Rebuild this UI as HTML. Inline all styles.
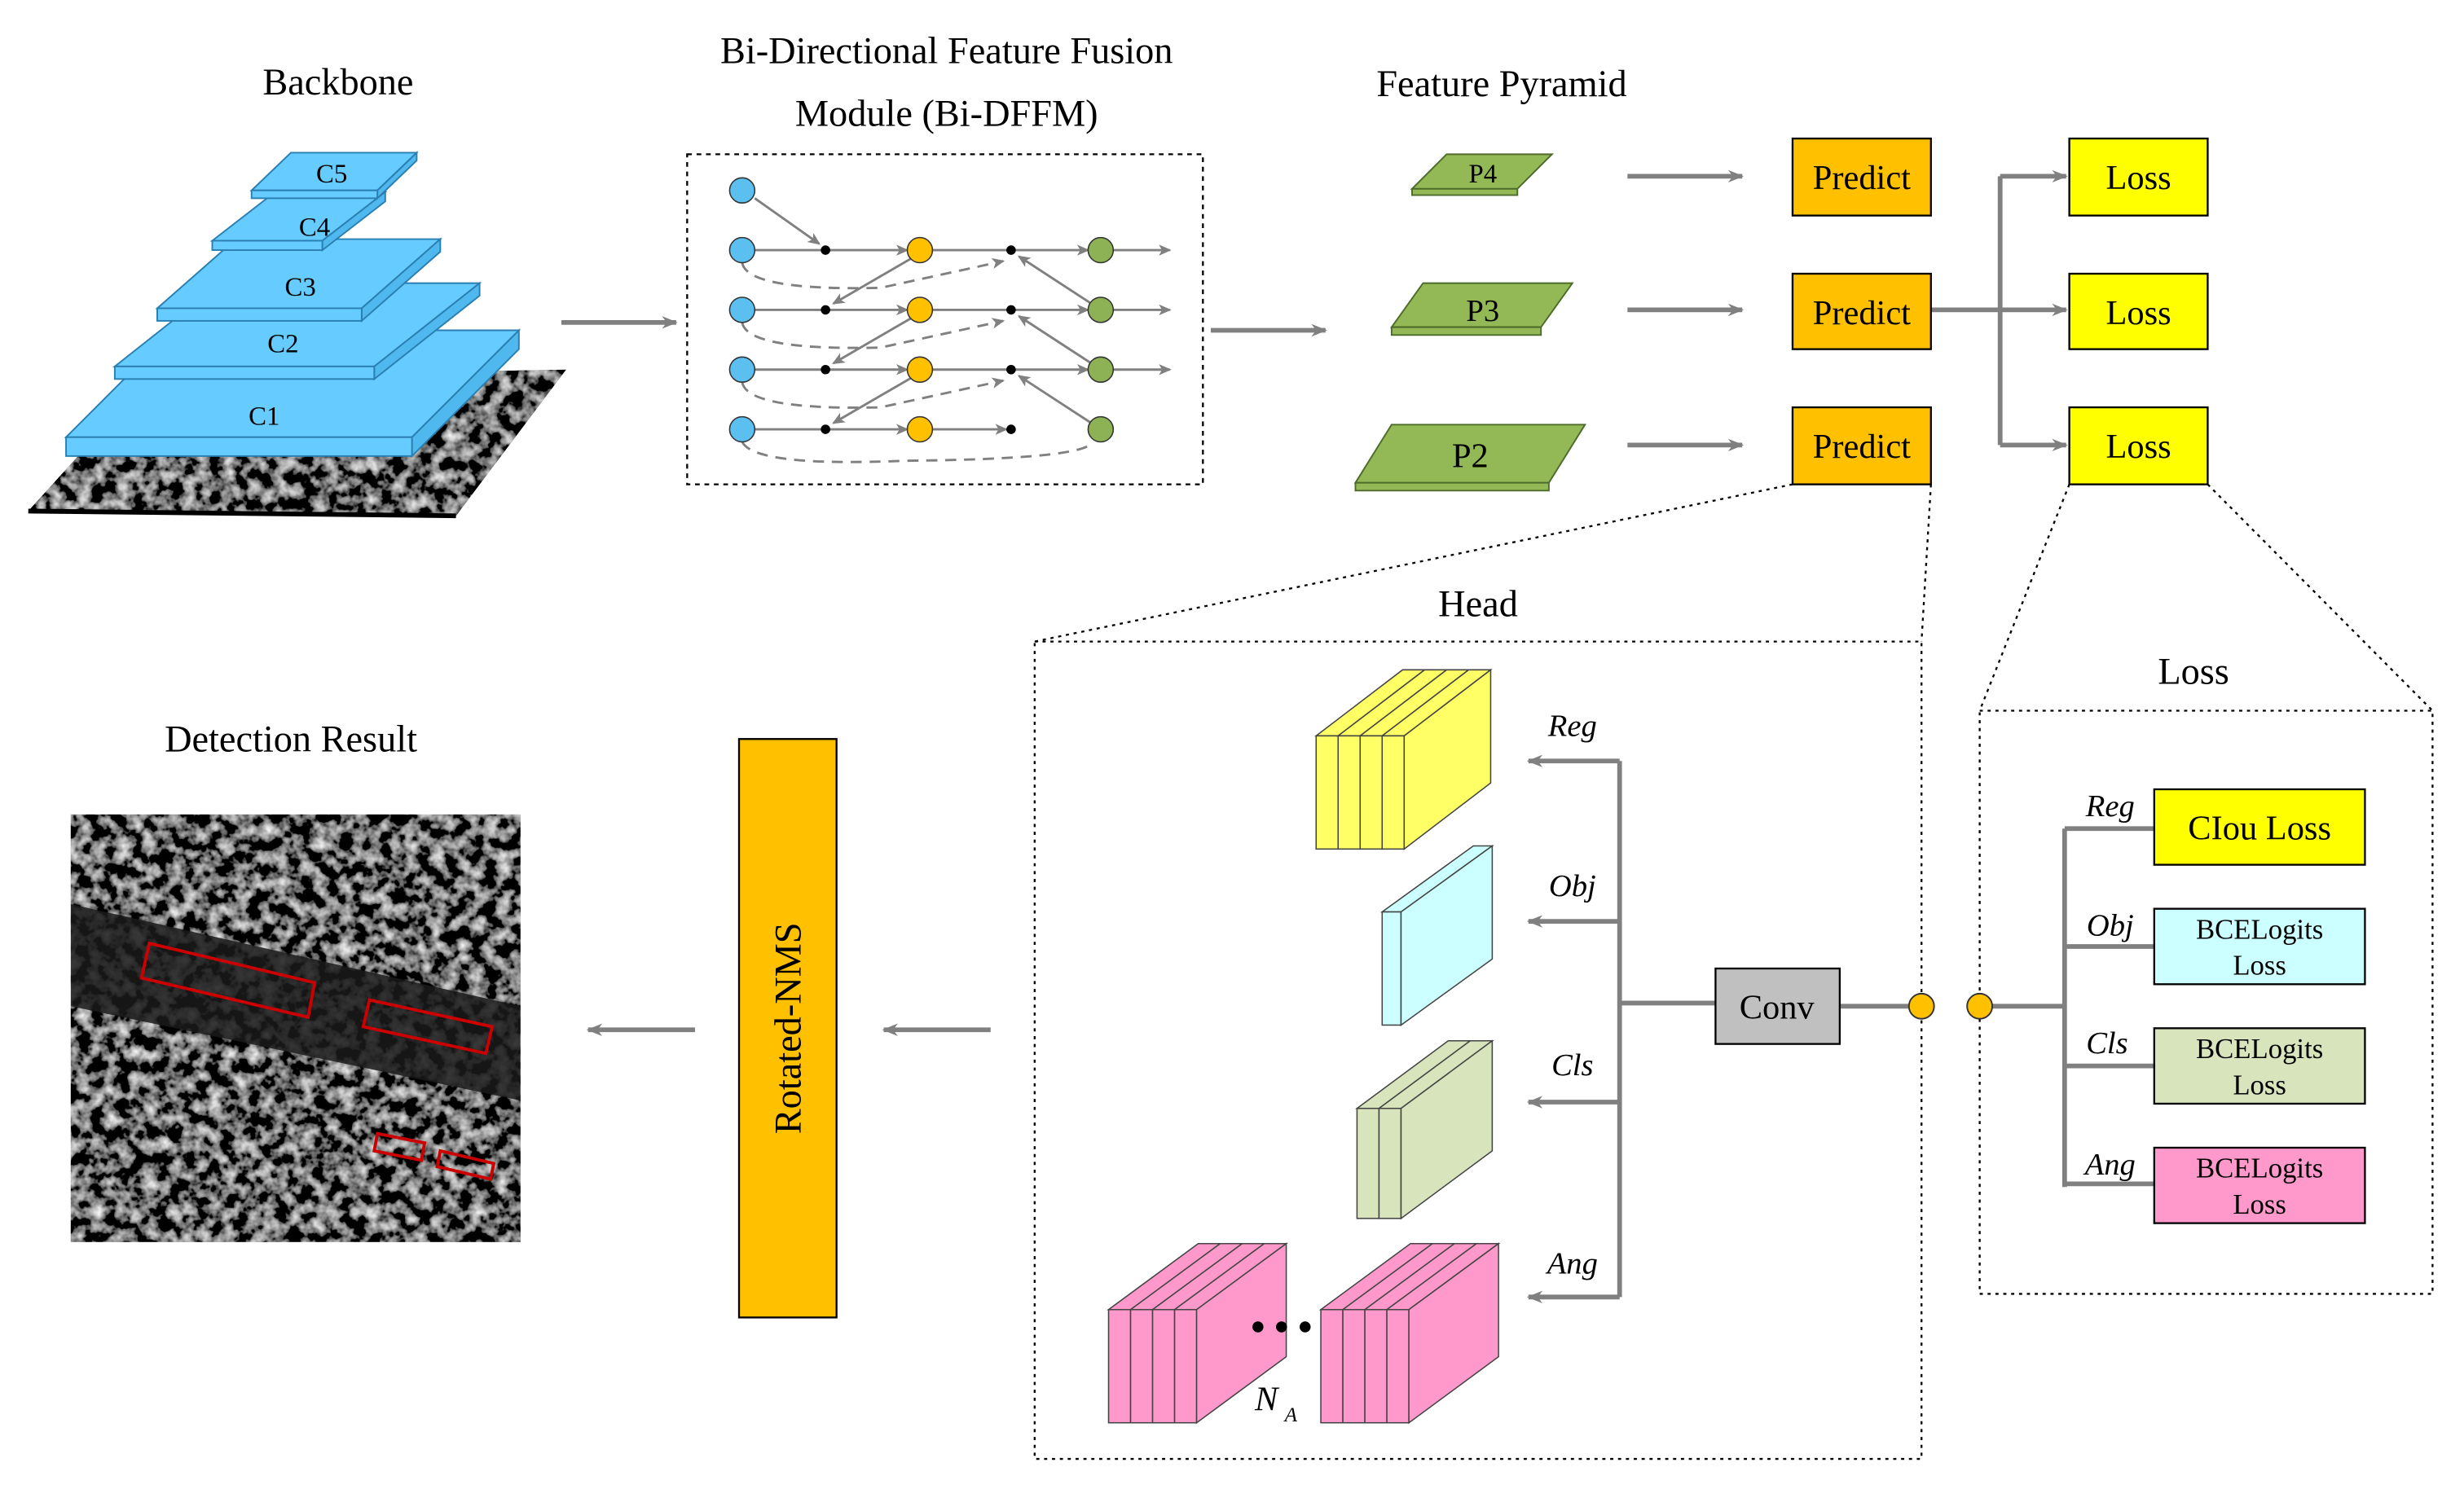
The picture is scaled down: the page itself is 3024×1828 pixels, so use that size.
<!DOCTYPE html>
<html><head><meta charset="utf-8"><style>html,body{margin:0;padding:0;background:#fff}svg{display:block}text{font-family:"Liberation Serif",serif}</style></head><body>
<svg xmlns="http://www.w3.org/2000/svg" width="3024" height="1828" viewBox="0 0 1567 947">
<defs>
<filter id="noise"><feTurbulence type="fractalNoise" baseFrequency="0.12" numOctaves="3" seed="7" result="t"/>
<feColorMatrix in="t" type="matrix" values="1.8 0 0 0 -0.75  1.8 0 0 0 -0.75  1.8 0 0 0 -0.75  0 0 0 0 1"/></filter>
<clipPath id="c1"><polygon points="18,325 290,328 360,235 95,240"/></clipPath>
<clipPath id="c2"><rect x="45" y="518" width="286" height="272"/></clipPath>
<marker id="ar" markerWidth="10" markerHeight="10" refX="9" refY="5" orient="auto" markerUnits="userSpaceOnUse"><path d="M0,1 L10,5 L0,9 L3,5 Z" fill="#808080"/></marker>
<marker id="as" markerWidth="8" markerHeight="8" refX="7" refY="4" orient="auto" markerUnits="userSpaceOnUse"><path d="M0,0.5 L8,4 L0,7.5 L2,4 Z" fill="#808080"/></marker>
</defs>

<!-- Backbone -->
<text x="215" y="60" font-size="24" text-anchor="middle">Backbone</text>
<g clip-path="url(#c1)"><rect x="0" y="220" width="380" height="120" fill="#222"/><rect x="0" y="220" width="380" height="120" filter="url(#noise)"/></g>
<line x1="18" y1="325" x2="290" y2="328" stroke="#000" stroke-width="3"/>
<g stroke="#2a7fb0" stroke-width="1" fill="#66CCFF">
<polygon points="42,278 110,210 330,210 262,278"/><polygon points="262,278 330,210 330,222 262,290" fill="#4fb8ee"/><rect x="42" y="278" width="220" height="12"/>
<polygon points="73,233 140,180 305,180 238,233"/><polygon points="238,233 305,180 305,188 238,241" fill="#4fb8ee"/><rect x="73" y="233" width="165" height="8"/>
<polygon points="100,196 150,152 280,152 230,196"/><polygon points="230,196 280,152 280,160 230,204" fill="#4fb8ee"/><rect x="100" y="196" width="130" height="8"/>
<polygon points="135,153 175,122 245,122 205,153"/><polygon points="205,153 245,122 245,128 205,159" fill="#4fb8ee"/><rect x="135" y="153" width="70" height="6"/>
<polygon points="160,121 185,97 265,97 240,121"/><polygon points="240,121 265,97 265,102 240,126" fill="#4fb8ee"/><rect x="160" y="121" width="80" height="5"/>
</g>
<g font-size="17" text-anchor="middle"><text x="168" y="270">C1</text><text x="180" y="224">C2</text><text x="191" y="188">C3</text><text x="200" y="150">C4</text><text x="211" y="116">C5</text></g>
<line x1="357" y1="205" x2="430" y2="205" stroke="#808080" stroke-width="3" marker-end="url(#ar)"/>

<!-- Bi-DFFM -->
<text x="602" y="40" font-size="24" text-anchor="middle">Bi-Directional Feature Fusion</text>
<text x="602" y="80" font-size="24" text-anchor="middle">Module (Bi-DFFM)</text>
<rect x="437" y="98" width="328" height="210" fill="none" stroke="#000" stroke-width="1.2" stroke-dasharray="3,3"/>
<g stroke="#808080" stroke-width="1.5" fill="none">
<line x1="480" y1="126" x2="521" y2="155" marker-end="url(#as)"/>
<line x1="480" y1="159" x2="577" y2="159" marker-end="url(#as)"/>
<line x1="480" y1="197" x2="577" y2="197" marker-end="url(#as)"/>
<line x1="480" y1="235" x2="577" y2="235" marker-end="url(#as)"/>
<line x1="480" y1="273" x2="577" y2="273" marker-end="url(#as)"/>
<line x1="593" y1="159" x2="692" y2="159" marker-end="url(#as)"/>
<line x1="593" y1="197" x2="692" y2="197" marker-end="url(#as)"/>
<line x1="593" y1="235" x2="692" y2="235" marker-end="url(#as)"/>
<line x1="593" y1="273" x2="640" y2="273" marker-end="url(#as)"/>
<line x1="708" y1="159" x2="744" y2="159" marker-end="url(#as)"/>
<line x1="708" y1="197" x2="744" y2="197" marker-end="url(#as)"/>
<line x1="708" y1="235" x2="744" y2="235" marker-end="url(#as)"/>
<line x1="580" y1="164" x2="530" y2="193" marker-end="url(#as)"/>
<line x1="580" y1="202" x2="530" y2="231" marker-end="url(#as)"/>
<line x1="580" y1="240" x2="530" y2="269" marker-end="url(#as)"/>
<line x1="694" y1="193" x2="648" y2="163" marker-end="url(#as)"/>
<line x1="694" y1="231" x2="648" y2="201" marker-end="url(#as)"/>
<line x1="694" y1="269" x2="648" y2="239" marker-end="url(#as)"/>
<g stroke-dasharray="7,5">
<path d="M472,167 Q475,185 560,183 L638,166" marker-end="url(#as)"/>
<path d="M472,205 Q475,223 560,221 L638,204" marker-end="url(#as)"/>
<path d="M472,243 Q475,261 560,259 L638,242" marker-end="url(#as)"/>
<path d="M472,281 Q480,297 575,293 Q690,292 695,281"/>
</g>
</g>
<g stroke="#333" stroke-width="0.8">
<g fill="#5BC0F0"><circle cx="472" cy="121" r="8"/><circle cx="472" cy="159" r="8"/><circle cx="472" cy="197" r="8"/><circle cx="472" cy="235" r="8"/><circle cx="472" cy="273" r="8"/></g>
<g fill="#FFC000"><circle cx="585" cy="159" r="8"/><circle cx="585" cy="197" r="8"/><circle cx="585" cy="235" r="8"/><circle cx="585" cy="273" r="8"/></g>
<g fill="#8DB255"><circle cx="700" cy="159" r="8"/><circle cx="700" cy="197" r="8"/><circle cx="700" cy="235" r="8"/><circle cx="700" cy="273" r="8"/></g>
</g>
<g fill="#000"><circle cx="525" cy="159" r="3"/><circle cx="525" cy="197" r="3"/><circle cx="525" cy="235" r="3"/><circle cx="525" cy="273" r="3"/><circle cx="643" cy="159" r="3"/><circle cx="643" cy="197" r="3"/><circle cx="643" cy="235" r="3"/><circle cx="643" cy="273" r="3"/></g>
<line x1="770" y1="210" x2="843" y2="210" stroke="#808080" stroke-width="3" marker-end="url(#ar)"/>

<!-- Feature pyramid -->
<text x="955" y="61" font-size="24" text-anchor="middle">Feature Pyramid</text>
<g fill="#92B955" stroke="#4d6b2a" stroke-width="1">
<polygon points="898,120 920,98 987,98 965,120"/><polygon points="898,120 965,120 965,124 898,124"/>
<polygon points="885,208 905,180 1000,180 980,208"/><polygon points="885,208 980,208 980,213 885,213"/>
<polygon points="862,307 885,270 1008,270 985,307"/><polygon points="862,307 985,307 985,312 862,312"/>
</g>
<text x="943" y="116" font-size="17" text-anchor="middle">P4</text>
<text x="943" y="204" font-size="20" text-anchor="middle">P3</text>
<text x="935" y="297" font-size="22" text-anchor="middle">P2</text>
<g stroke="#808080" stroke-width="3" fill="none">
<line x1="1035" y1="112" x2="1108" y2="112" marker-end="url(#ar)"/>
<line x1="1035" y1="197" x2="1108" y2="197" marker-end="url(#ar)"/>
<line x1="1035" y1="283" x2="1108" y2="283" marker-end="url(#ar)"/>
<line x1="1228" y1="197" x2="1314" y2="197" marker-end="url(#ar)"/>
<polyline points="1272,112 1272,283"/>
<line x1="1272" y1="112" x2="1314" y2="112" marker-end="url(#ar)"/>
<line x1="1272" y1="283" x2="1314" y2="283" marker-end="url(#ar)"/>
</g>
<g stroke="#000" stroke-width="1.2">
<rect x="1140" y="88" width="88" height="49" fill="#FFC000"/>
<rect x="1140" y="174" width="88" height="48" fill="#FFC000"/>
<rect x="1140" y="259" width="88" height="49" fill="#FFC000"/>
<rect x="1316" y="88" width="88" height="49" fill="#FFFF00"/>
<rect x="1316" y="174" width="88" height="48" fill="#FFFF00"/>
<rect x="1316" y="259" width="88" height="49" fill="#FFFF00"/>
</g>
<g font-size="22" text-anchor="middle">
<text x="1184" y="120">Predict</text><text x="1184" y="206">Predict</text><text x="1184" y="291">Predict</text>
<text x="1360" y="120">Loss</text><text x="1360" y="206">Loss</text><text x="1360" y="291">Loss</text>
</g>
<g stroke="#000" stroke-width="1.2" stroke-dasharray="2,3" fill="none">
<line x1="1140" y1="308" x2="658" y2="408"/><line x1="1228" y1="308" x2="1222" y2="408"/>
<line x1="1316" y1="308" x2="1259" y2="452"/><line x1="1404" y1="308" x2="1547" y2="452"/>
<rect x="658" y="408" width="564" height="520"/>
<rect x="1259" y="452" width="288" height="371"/>
</g>
<text x="940" y="392" font-size="24" text-anchor="middle">Head</text>
<text x="1395" y="435" font-size="24" text-anchor="middle">Loss</text>

<!-- Detection -->
<text x="185" y="478" font-size="24" text-anchor="middle">Detection Result</text>
<g clip-path="url(#c2)"><rect x="45" y="518" width="286" height="272" fill="#222"/><rect x="45" y="518" width="286" height="272" filter="url(#noise)"/>
<polygon points="45,575 331,640 331,700 45,640" fill="#1a1a1a" opacity="0.85"/></g>
<g fill="none" stroke="#cc0000" stroke-width="2">
<polygon points="95,600 200,625 196,647 90,622"/>
<polygon points="235,636 313,653 309,670 231,653"/>
<polygon points="240,721 270,727 268,738 238,732"/>
<polygon points="280,732 314,740 312,750 278,742"/>
</g>
<rect x="470" y="470" width="62" height="368" fill="#FFC000" stroke="#000" stroke-width="1.2"/>
<text transform="translate(509,654) rotate(-90)" font-size="24" text-anchor="middle">Rotated-NMS</text>
<g stroke="#808080" stroke-width="3">
<line x1="630" y1="655" x2="562" y2="655" marker-end="url(#ar)"/>
<line x1="442" y1="655" x2="374" y2="655" marker-end="url(#ar)"/>
</g>

<!-- Head contents -->
<g stroke="#808080" stroke-width="3" fill="none">
<polyline points="1091,638 1030,638"/>
<polyline points="1030,484 1030,825"/>
<line x1="1030" y1="484" x2="972" y2="484" marker-end="url(#ar)"/>
<line x1="1030" y1="586" x2="972" y2="586" marker-end="url(#ar)"/>
<line x1="1030" y1="701" x2="972" y2="701" marker-end="url(#ar)"/>
<line x1="1030" y1="825" x2="972" y2="825" marker-end="url(#ar)"/>
<polyline points="1170,640 1222,640"/>
<polyline points="1259,640 1313,640"/>
<polyline points="1313,527 1313,755"/>
<line x1="1313" y1="527" x2="1370" y2="527"/><line x1="1313" y1="602" x2="1370" y2="602"/>
<line x1="1313" y1="678" x2="1370" y2="678"/><line x1="1313" y1="753" x2="1370" y2="753"/>
</g>
<rect x="1091" y="616" width="79" height="48" fill="#C0C0C0" stroke="#000" stroke-width="1.2"/>
<text x="1130" y="648" font-size="22" text-anchor="middle">Conv</text>
<circle cx="1222" cy="640" r="8" fill="#FFC000" stroke="#333"/>
<circle cx="1259" cy="640" r="8" fill="#FFC000" stroke="#333"/>
<g font-size="20" font-style="italic" text-anchor="middle">
<text x="1000" y="468">Reg</text><text x="1000" y="570">Obj</text><text x="1000" y="684">Cls</text><text x="1000" y="810">Ang</text>
<text x="1342" y="519">Reg</text><text x="1342" y="595">Obj</text><text x="1340" y="670">Cls</text><text x="1342" y="747">Ang</text>
</g>
<g stroke="#000" stroke-width="1.2">
<rect x="1370" y="502" width="134" height="48" fill="#FFFF00"/>
<rect x="1370" y="578" width="134" height="48" fill="#CCFFFF"/>
<rect x="1370" y="654" width="134" height="48" fill="#D8E4BC"/>
<rect x="1370" y="730" width="134" height="48" fill="#FF99CC"/>
</g>
<g text-anchor="middle">
<text x="1437" y="534" font-size="22">CIou Loss</text>
<text x="1437" y="597" font-size="18">BCELogits</text><text x="1437" y="620" font-size="18">Loss</text>
<text x="1437" y="673" font-size="18">BCELogits</text><text x="1437" y="696" font-size="18">Loss</text>
<text x="1437" y="749" font-size="18">BCELogits</text><text x="1437" y="772" font-size="18">Loss</text>
</g>
<!-- 3D blocks -->
<g stroke="#444" stroke-width="0.8">
<g fill="#FFFF66">
<polygon points="837,468 892,426 906,426 851,468"/><rect x="837" y="468" width="14" height="72"/>
<polygon points="851,468 906,426 920,426 865,468"/><rect x="851" y="468" width="14" height="72"/>
<polygon points="865,468 920,426 934,426 879,468"/><rect x="865" y="468" width="14" height="72"/>
<polygon points="879,468 934,426 948,426 893,468"/><rect x="879" y="468" width="14" height="72"/>
<polygon points="893,468 948,426 948,498 893,540"/>
</g>
<g fill="#CCFFFF">
<polygon points="879,580 937,538 949,538 891,580"/><rect x="879" y="580" width="12" height="72"/>
<polygon points="891,580 949,538 949,610 891,652"/>
</g>
<g fill="#D8E4BC">
<polygon points="863,705 921,662 935,662 877,705"/><rect x="863" y="705" width="14" height="70"/>
<polygon points="877,705 935,662 949,662 891,705"/><rect x="877" y="705" width="14" height="70"/>
<polygon points="891,705 949,662 949,732 891,775"/>
</g>
<g fill="#FF99CC">
<polygon points="705,833 762,791 776,791 719,833"/><rect x="705" y="833" width="14" height="72"/>
<polygon points="719,833 776,791 790,791 733,833"/><rect x="719" y="833" width="14" height="72"/>
<polygon points="733,833 790,791 804,791 747,833"/><rect x="733" y="833" width="14" height="72"/>
<polygon points="747,833 804,791 818,791 761,833"/><rect x="747" y="833" width="14" height="72"/>
<polygon points="761,833 818,791 818,863 761,905"/>
<polygon points="840,833 897,791 911,791 854,833"/><rect x="840" y="833" width="14" height="72"/>
<polygon points="854,833 911,791 925,791 868,833"/><rect x="854" y="833" width="14" height="72"/>
<polygon points="868,833 925,791 939,791 882,833"/><rect x="868" y="833" width="14" height="72"/>
<polygon points="882,833 939,791 953,791 896,833"/><rect x="882" y="833" width="14" height="72"/>
<polygon points="896,833 953,791 953,863 896,905"/>
</g>
</g>
<g fill="#000"><circle cx="800" cy="844" r="3.5"/><circle cx="815" cy="844" r="3.5"/><circle cx="830" cy="844" r="3.5"/></g>
<text x="798" y="897" font-size="22" font-style="italic">N</text><text x="817" y="904" font-size="13" font-style="italic">A</text>
</svg>
</body></html>
